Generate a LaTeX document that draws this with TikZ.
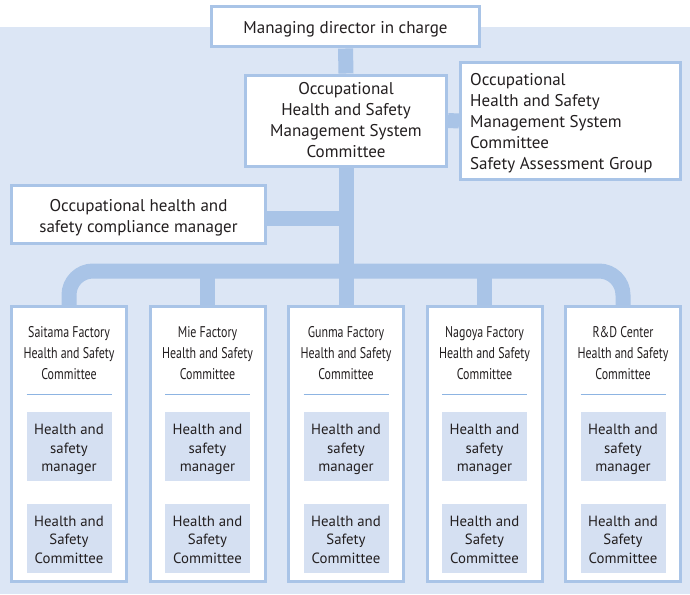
\documentclass[tikz,border=0pt]{standalone}
\usepackage{fontspec}
\setmainfont{PT Sans}
\newfontfamily\condfont[FakeStretch=0.77]{PT Sans}
\definecolor{bgblue}{HTML}{DCE6F5}
\definecolor{edgeblue}{HTML}{A9C4E7}
\definecolor{innerblue}{HTML}{D5E0F2}
\definecolor{ruleblue}{HTML}{8DB4E2}
\definecolor{txt}{HTML}{231F20}
\pgfdeclarelayer{back}
\pgfdeclarelayer{mid}
\pgfsetlayers{back,mid,main}
\tikzset{
  topbox/.style={draw=edgeblue, line width=3pt, fill=white, inner sep=0pt},
  toptext/.style={text=txt, align=center, inner sep=0pt, font=\fontsize{17}{21}\selectfont},
  factbox/.style={draw=edgeblue, line width=3pt, fill=white, minimum width=115pt, minimum height=275pt, inner sep=0pt},
  facttitle/.style={text=txt, align=center, inner sep=0pt, font=\condfont\fontsize{15.5}{20.8}\selectfont},
  innerbox/.style={fill=innerblue, minimum width=85pt, minimum height=69pt, inner sep=0pt},
  innertext/.style={text=txt, align=center, inner sep=0pt, font=\fontsize{14.8}{18.5}\selectfont},
  conn/.style={draw=edgeblue, line width=15pt},
  smallconn/.style={draw=edgeblue, line width=8pt},
  thinrule/.style={draw=ruleblue, line width=0.9pt}
}
\begin{document}
\begin{tikzpicture}[x=1pt,y=-1pt]
\useasboundingbox (0,0) rectangle (690,594);
\begin{pgfonlayer}{back}
\fill[bgblue] (0,27) rectangle (690,594);
\end{pgfonlayer}

% top nodes
\node[topbox, minimum width=268pt, minimum height=40pt] (md) at (345.5,27) {};
\node[toptext] (mdt) at (345.5,29) {Managing director in charge};
\node[topbox, minimum width=201pt, minimum height=91pt] (ohs) at (346,120.5) {};
\node[toptext] (ohst) at (346,120.5) {Occupational\\Health and Safety\\Management System\\Committee};
\node[topbox, minimum width=220pt, minimum height=117pt] (sag) at (570.5,121) {};
\node[toptext, align=left, anchor=west] (sagt) at (470,123) {Occupational\\Health and Safety\\Management System\\Committee\\Safety Assessment Group};
\node[topbox, minimum width=254pt, minimum height=58pt] (cm) at (138.5,214) {};
\node[toptext] (cmt) at (138.5,217.5) {Occupational health and\\safety compliance manager};

% bottom factory boxes
\foreach \i/\cx/\name in {1/69/Saitama Factory, 2/207.5/Mie Factory, 3/346/Gunma Factory, 4/484.5/Nagoya Factory, 5/623/R\&D Center}{
  \node[factbox] (f\i) at (\cx,444) {};
  \node[facttitle] (t\i) at (\cx,353) {\name\\Health and Safety\\Committee};
  \coordinate (rl\i) at (\cx-42.5,394);
  \coordinate (rr\i) at (\cx+42.5,394);
  \draw[thinrule] (rl\i) -- (rr\i);
  \node[innerbox] (m\i) at (\cx,446.5) {};
  \node[innertext] (mt\i) at (\cx,449.5) {Health and\\safety\\manager};
  \node[innerbox] (c\i) at (\cx,538.5) {};
  \node[innertext] (ct\i) at (\cx,539.5) {Health and\\Safety\\Committee};
  \begin{pgfonlayer}{mid}
  \draw[smallconn] (m\i.south) -- (c\i.north);
  \end{pgfonlayer}
}

% connectors
\coordinate (busL) at (69,271);
\coordinate (busR) at (623,271);
\coordinate (busM) at (346,271);
\coordinate (j2) at (207.5,271);
\coordinate (j4) at (484.5,271);
\coordinate (jc) at (346,218);
\begin{pgfonlayer}{mid}
\draw[conn] (md.south) -- (ohs.north);
\draw[conn] (ohs.east) -- (sag.west);
\draw[conn] (ohs.south) -- (busM);
\draw[conn] (cm.east |- jc) -- (jc);
\draw[conn, rounded corners=24pt] (f1.north) -- (busL) -- (busR) -- (f5.north);
\draw[conn] (j2) -- (f2.north);
\draw[conn] (busM) -- (f3.north);
\draw[conn] (j4) -- (f4.north);
\end{pgfonlayer}
\end{tikzpicture}
\end{document}
